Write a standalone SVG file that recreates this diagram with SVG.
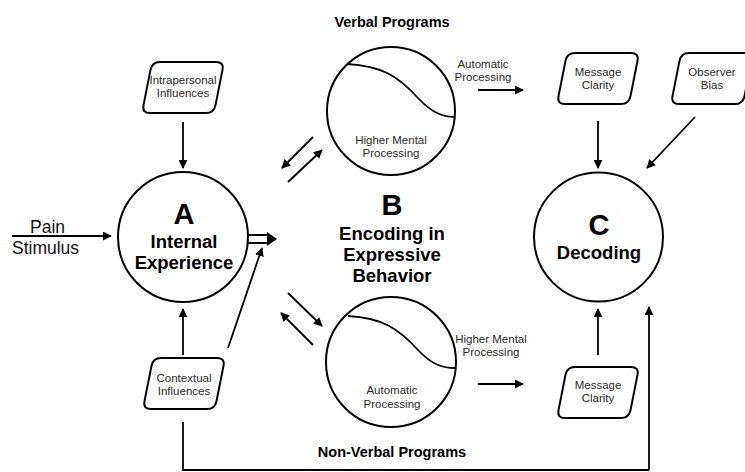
<svg xmlns="http://www.w3.org/2000/svg" width="745" height="472" viewBox="0 0 745 472">
<style>
  .ln { stroke:#000; stroke-width:1.8; fill:none; }
  .arr { stroke:#000; stroke-width:1.8; fill:none; marker-end:url(#ah); }
  .circ { stroke:#000; stroke-width:2; fill:#fff; }
  .box { stroke:#000; stroke-width:2; fill:#fff; }
  .sm { font-family:"Liberation Sans", Arial, sans-serif; font-size:11.5px; fill:#2a2a2a; text-anchor:middle; }
  .big { font-family:"Liberation Sans", Arial, sans-serif; font-size:18.5px; font-weight:bold; fill:#000; text-anchor:middle; }
  .let { font-family:"Liberation Sans", Arial, sans-serif; font-size:29px; font-weight:bold; fill:#000; text-anchor:middle; }
  .ttl { font-family:"Liberation Sans", Arial, sans-serif; font-size:14.5px; font-weight:bold; fill:#000; text-anchor:middle; }
  .pain { font-family:"Liberation Sans", Arial, sans-serif; font-size:17.5px; fill:#111; }
</style>
<defs>
  <marker id="ah" viewBox="0 0 10 10" refX="9" refY="5" markerWidth="9" markerHeight="9" markerUnits="userSpaceOnUse" orient="auto">
    <path d="M0,0 L10,5 L0,10 z" fill="#000"/>
  </marker>
  <path id="para" d="M18,0 L74,0 Q82,0 80.5,7.9 L73.5,43.1 Q72,51 64,51 L8,51 Q0,51 1.5,43.1 L8.5,7.9 Q10,0 18,0 Z"/>
</defs>
<rect width="745" height="472" fill="#fff"/>

<g id="connectors">
  <line class="arr" x1="12" y1="236" x2="111" y2="236"/>
  <line class="arr" x1="183" y1="122" x2="183" y2="168"/>
  <line class="arr" x1="183" y1="355" x2="183" y2="309"/>
  <line class="arr" x1="228" y1="348" x2="262" y2="248"/>
  <polyline class="ln" points="183,422 183,470 649,470"/>
  <line class="arr" x1="649" y1="470" x2="649" y2="307"/>
  <path d="M248,235 L268,235 L268,243 L248,243" fill="#fff" stroke="#000" stroke-width="1.8"/>
  <path d="M267,232 L277,239 L267,246 Z" fill="#000"/>
  <line class="arr" x1="313" y1="137" x2="282" y2="168"/>
  <line class="arr" x1="288" y1="182" x2="322" y2="150"/>
  <line class="arr" x1="288" y1="293" x2="322" y2="326"/>
  <line class="arr" x1="313" y1="345" x2="281" y2="313"/>
  <line class="arr" x1="478" y1="90" x2="523" y2="90"/>
  <line class="arr" x1="478" y1="384" x2="523" y2="384"/>
  <line class="arr" x1="598" y1="121" x2="598" y2="168"/>
  <line class="arr" x1="695" y1="117" x2="647" y2="168"/>
  <line class="arr" x1="598" y1="355" x2="598" y2="309"/>
</g>

<g id="pain-stimulus">
  <text class="pain" x="30" y="233">Pain</text>
  <text class="pain" x="12" y="254">Stimulus</text>
</g>

<g id="intrapersonal">
  <use href="#para" class="box" transform="translate(142,62)"/>
  <text class="sm" x="183" y="84">Intrapersonal</text>
  <text class="sm" x="183" y="97">Influences</text>
</g>

<g id="contextual">
  <use href="#para" class="box" transform="translate(143,358)"/>
  <text class="sm" x="184" y="382">Contextual</text>
  <text class="sm" x="184" y="395">Influences</text>
</g>

<g id="node-a">
  <circle class="circ" cx="183" cy="237" r="65"/>
  <text class="let" x="184" y="224">A</text>
  <text class="big" x="184" y="248">Internal</text>
  <text class="big" x="184" y="269">Experience</text>
</g>

<g id="verbal">
  <text class="ttl" x="392" y="27">Verbal Programs</text>
  <circle class="circ" cx="391" cy="111" r="64"/>
  <path class="ln" d="M347,64 C382,66 398,76 418,98 C433,114 444,117 455,117"/>
  <text class="sm" x="391" y="144">Higher Mental</text>
  <text class="sm" x="391" y="157">Processing</text>
  <text class="sm" x="483" y="68">Automatic</text>
  <text class="sm" x="483" y="81">Processing</text>
</g>

<g id="node-b">
  <text class="let" x="392" y="215">B</text>
  <text class="big" x="392" y="240">Encoding in</text>
  <text class="big" x="392" y="261">Expressive</text>
  <text class="big" x="392" y="282">Behavior</text>
</g>

<g id="nonverbal">
  <circle class="circ" cx="391" cy="362" r="65"/>
  <path class="ln" d="M348,316 C382,318 398,328 418,350 C433,366 444,368 455,368"/>
  <text class="sm" x="392" y="394">Automatic</text>
  <text class="sm" x="392" y="408">Processing</text>
  <text class="sm" x="491" y="343">Higher Mental</text>
  <text class="sm" x="491" y="356">Processing</text>
  <text class="ttl" x="392" y="457">Non-Verbal Programs</text>
</g>

<g id="clarity-top">
  <use href="#para" class="box" transform="translate(557,53)"/>
  <text class="sm" x="598" y="76">Message</text>
  <text class="sm" x="598" y="89">Clarity</text>
</g>

<g id="observer-bias">
  <use href="#para" class="box" transform="translate(671,53)"/>
  <text class="sm" x="712" y="76">Observer</text>
  <text class="sm" x="712" y="89">Bias</text>
</g>

<g id="node-c">
  <circle class="circ" cx="598.5" cy="237" r="64.5"/>
  <text class="let" x="599" y="235">C</text>
  <text class="big" x="599" y="259">Decoding</text>
</g>

<g id="clarity-bottom">
  <use href="#para" class="box" transform="translate(557,367)"/>
  <text class="sm" x="598" y="389">Message</text>
  <text class="sm" x="598" y="402">Clarity</text>
</g>
</svg>
